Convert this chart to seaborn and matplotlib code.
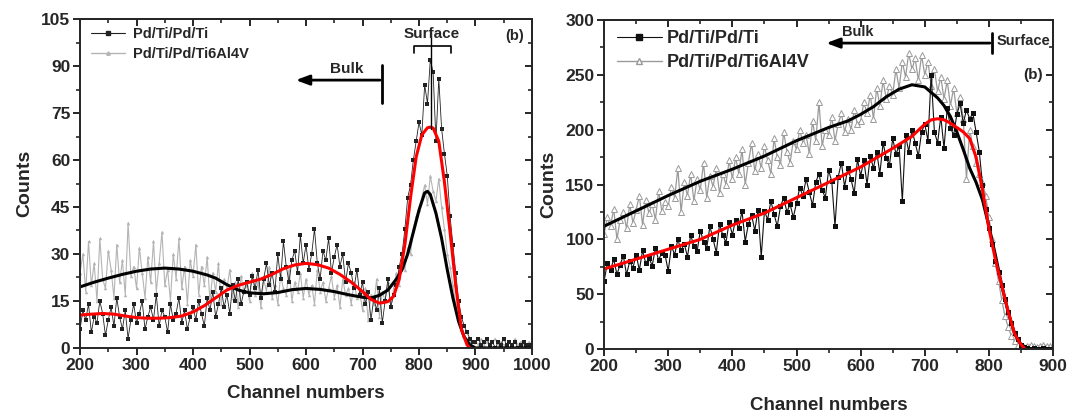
import numpy as np
import pandas as pd
import matplotlib
matplotlib.use('Agg')
import matplotlib.pyplot as plt
import seaborn as sns
from matplotlib.lines import Line2D
from matplotlib.ticker import MultipleLocator, NullFormatter

# ---------------- left panel data ----------------
ch_a = np.arange(200, 1001, 5)

pdti_a = [
    6, 12, 9, 14, 5, 10, 8, 15, 11, 4, 9, 13, 7, 16, 10, 6, 12, 3, 9, 14,
    8, 11, 15, 6, 10, 13, 9, 17, 7, 12, 10, 5, 14, 9, 11, 16, 8, 12, 6, 10,
    13, 9, 15, 11, 7, 16, 12, 18, 10, 14, 19, 13, 17, 11, 20, 15, 22, 14, 18, 21,
    17, 23, 19, 25, 16, 22, 27, 20, 24, 18, 30, 22, 34, 26, 21, 28, 31, 24, 36, 27,
    33, 25, 30, 38, 27, 22, 31, 28, 35, 24, 29, 33, 26, 30, 21, 27, 24, 19, 25, 17,
    21, 14, 18, 9, 16, 12, 19, 8, 15, 22, 13, 17, 20, 26, 30, 38, 48, 52, 60, 66,
    72, 68, 84, 78, 92, 88, 66, 86, 70, 62, 55, 42, 33, 24, 15, 10, 7, 5, 3, 2,
    2, 3, 1, 2, 3, 1, 2, 0, 2, 1, 3, 1, 2, 1, 2, 0, 1, 2, 1, 1,
    1,
]

ti64_a = [
    24, 30, 18, 34, 20, 27, 15, 35, 22, 19, 31, 25, 16, 33, 21, 28, 17, 40, 23, 26,
    19, 32, 24, 16, 29, 21, 34, 18, 27, 37, 20, 25, 15, 30, 22, 35, 19, 26, 14, 28,
    23, 33, 17, 26, 20, 29, 15, 24, 18, 27, 14, 22, 19, 25, 16, 21, 13, 23, 18, 20,
    15, 24, 17, 21, 13, 22, 18, 26, 16, 20, 14, 23, 19, 17, 25, 15, 21, 18, 24, 16,
    22, 17, 20, 14, 25, 18, 21, 15, 19, 23, 16, 20, 13, 22, 17, 19, 14, 21, 16, 18,
    12, 19, 9, 17, 14, 22, 10, 18, 15, 21, 13, 19, 24, 20, 28, 25, 32, 30, 38, 42,
    44, 48, 52, 46, 55, 50, 47, 54, 45, 38, 30, 26, 20, 14, 9, 6, 4, 3, 2, 2,
    2, 1, 3, 1, 2, 1, 2, 3, 1, 2, 1, 1, 2, 1, 3, 1, 2, 1, 1, 2,
    1,
]

fit_ti64_a_x = [200, 225, 250, 275, 300, 325, 350, 375, 400, 425, 440, 460, 480, 500,
                525, 550, 575, 600, 625, 650, 675, 700, 715, 730, 745, 760, 770, 780,
                790, 800, 810, 815, 820, 830, 840, 850, 860, 870, 880, 890, 900, 950, 1000]
fit_ti64_a_y = [19.5, 21, 22.3, 23.5, 24.5, 25.2, 25.5, 25.2, 24.5, 23.3, 22.3, 20.2, 18.5, 17.6,
                17.3, 17.7, 18.6, 19, 18.7, 18, 17, 16.2, 16, 16.8, 18.5, 22, 25, 30,
                37, 44, 49.5, 50, 49, 43, 35, 25, 16, 8.5, 3.5, 1, 0, 0, 0]

fit_pdti_a_x = [200, 220, 240, 260, 280, 300, 320, 340, 360, 380, 400, 420, 440, 460, 480,
                500, 520, 540, 560, 580, 600, 620, 640, 660, 680, 700, 715, 730, 745, 755,
                765, 775, 785, 795, 805, 815, 820, 825, 835, 845, 855, 865, 875, 885, 890]
fit_pdti_a_y = [10.5, 10.8, 11, 10.8, 10.2, 9.7, 9.5, 9.5, 9.7, 10.2, 11.5, 13.5, 16, 18.5, 20,
                21, 22, 23.5, 25.3, 26.5, 27, 26.6, 25.5, 23.5, 21, 18, 15.5, 14.3, 14.8, 16.5,
                22, 33, 48, 61, 68, 70.3, 70.5, 70.2, 66, 53, 37, 20, 6, 1, 0]

# ---------------- right panel data ----------------
ch_b = np.arange(200, 901, 5)

pdti_b = [
    62, 78, 72, 82, 68, 77, 85, 68, 80, 74, 86, 72, 90, 78, 83, 76, 92, 81, 88, 86,
    71, 94, 86, 100, 90, 96, 84, 104, 94, 89, 108, 98, 92, 112, 100, 88, 114, 104, 97, 116,
    104, 118, 110, 126, 98, 114, 122, 108, 127, 84, 126, 118, 135, 123, 112, 130, 138, 125, 132, 120,
    133, 147, 140, 155, 143, 131, 152, 160, 145, 138, 163, 153, 112, 157, 170, 148, 165, 155, 142, 173,
    158, 172, 150, 176, 165, 180, 160, 188, 174, 168, 192, 178, 185, 135, 195, 180, 200, 188, 176, 198,
    205, 190, 250, 198, 188, 212, 183, 220, 202, 195, 214, 224, 206, 218, 210, 215, 198, 180, 150, 128,
    110, 96, 80, 70, 58, 46, 34, 24, 15, 9, 4, 2, 1, 0, 1, 0, 0, 1, 0, 0,
    0,
]

ti64_b = [
    105, 120, 112, 128, 100, 118, 125, 110, 132, 115, 127, 140, 113, 136, 124, 132, 118, 144, 126, 134,
    130, 148, 138, 165, 125, 152, 140, 160, 135, 155, 145, 170, 138, 158, 148, 165, 142, 160, 150, 172,
    155, 175, 160, 182, 150, 170, 188, 162, 178, 165, 185, 172, 160, 192, 175, 168, 198, 180, 170, 190,
    182, 200, 188, 195, 178, 208, 190, 225, 185, 200, 195, 212, 190, 205, 215, 198, 210, 200, 218, 205,
    208, 225, 215, 232, 210, 238, 222, 245, 228, 240, 232, 255, 238, 262, 248, 270, 255, 265, 245, 268,
    250, 262, 240, 255, 235, 248, 228, 245, 222, 238, 215, 230, 210, 155, 200, 185, 170, 160, 152, 140,
    120, 100, 78, 62, 45, 30, 20, 12, 7, 4, 3, 2, 3, 4, 3, 2, 3, 4, 3, 3,
    3,
]

fit_ti64_b_x = [200, 250, 300, 350, 400, 450, 500, 550, 580, 600, 620, 640, 660, 680, 700,
                720, 730, 740, 750, 760, 770, 780, 790, 800, 810, 820, 830, 840, 850, 860, 880, 900]
fit_ti64_b_y = [112, 126, 140, 153, 164, 176, 190, 202, 208, 214, 221, 230, 237, 241, 239,
                229, 222, 212, 198, 182, 165, 152, 136, 112, 86, 58, 34, 14, 4, 0, 0, 0]

fit_pdti_b_x = [200, 250, 300, 350, 400, 450, 500, 550, 600, 650, 680, 700, 710, 720, 730,
                740, 750, 760, 770, 780, 790, 800, 810, 820, 830, 840, 850, 855]
fit_pdti_b_y = [73, 82, 91, 100, 113, 124, 138, 152, 166, 183, 194, 205, 209, 210, 209,
                206, 202, 198, 192, 175, 145, 110, 82, 58, 34, 14, 4, 1]

labels = ['Pd/Ti/Pd/Ti', 'Pd/Ti/Pd/Ti6Al4V']

# ---------------- style ----------------
sns.set_style('ticks')
plt.rcParams['font.family'] = ['Liberation Sans', 'DejaVu Sans']
plt.rcParams['font.weight'] = 'bold'
plt.rcParams['axes.labelweight'] = 'bold'
plt.rcParams['axes.linewidth'] = 1.4

fig = plt.figure(figsize=(10.73, 4.18), dpi=100)
ax1 = fig.add_axes([0.0746, 0.1675, 0.4212, 0.787])
ax2 = fig.add_axes([0.563, 0.165, 0.4184, 0.787])

df_a = pd.DataFrame({'ch': ch_a, 'pdti': pdti_a, 'ti64': ti64_a})
df_b = pd.DataFrame({'ch': ch_b, 'pdti': pdti_b, 'ti64': ti64_b})

# left panel
sns.lineplot(data=df_a, x='ch', y='ti64', ax=ax1, color='#b4b4b4', lw=0.8,
             marker='^', markersize=2.5, markeredgewidth=0, estimator=None, sort=False)
sns.lineplot(data=df_a, x='ch', y='pdti', ax=ax1, color='#222222', lw=0.6,
             marker='s', markersize=2.2, markeredgewidth=0, estimator=None, sort=False)
sns.lineplot(x=fit_ti64_a_x, y=fit_ti64_a_y, ax=ax1, color='black', lw=2.2, estimator=None, sort=False)
sns.lineplot(x=fit_pdti_a_x, y=fit_pdti_a_y, ax=ax1, color='#ff0000', lw=2.2, estimator=None, sort=False)

# right panel
sns.lineplot(data=df_b, x='ch', y='ti64', ax=ax2, color='#9a9a9a', lw=0.9,
             marker='^', markersize=4.5, markerfacecolor='white', markeredgecolor='#9a9a9a',
             markeredgewidth=0.7, estimator=None, sort=False)
sns.lineplot(data=df_b, x='ch', y='pdti', ax=ax2, color='#111111', lw=0.8,
             marker='s', markersize=3.6, markeredgewidth=0, estimator=None, sort=False)
sns.lineplot(x=fit_ti64_b_x, y=fit_ti64_b_y, ax=ax2, color='black', lw=2.2, estimator=None, sort=False)
sns.lineplot(x=fit_pdti_b_x, y=fit_pdti_b_y, ax=ax2, color='#ff0000', lw=2.2, estimator=None, sort=False)


def style_axes(ax, xlim, ylim, xmaj, ymaj, labelpad_x):
    ax.set_xlim(*xlim)
    ax.set_ylim(*ylim)
    ax.xaxis.set_major_locator(MultipleLocator(xmaj))
    ax.xaxis.set_minor_locator(MultipleLocator(xmaj / 2))
    ax.yaxis.set_major_locator(MultipleLocator(ymaj))
    ax.yaxis.set_minor_locator(MultipleLocator(ymaj / 2))
    ax.tick_params(which='major', direction='out', length=5, width=1.4, labelsize=12.5, pad=2)
    ax.tick_params(which='minor', direction='out', length=3, width=1.2)
    for lab in ax.get_xticklabels() + ax.get_yticklabels():
        lab.set_fontweight('bold')
    ax.set_xlabel('Channel numbers', fontsize=13.5, fontweight='bold', labelpad=labelpad_x)
    ax.set_ylabel('Counts', fontsize=14, fontweight='bold', labelpad=6)
    for s in ax.spines.values():
        s.set_visible(True)
        s.set_linewidth(1.4)
    # mirrored ticks on top/right pointing inward
    top = ax.secondary_xaxis('top')
    top.xaxis.set_major_locator(MultipleLocator(xmaj))
    top.xaxis.set_minor_locator(MultipleLocator(xmaj / 2))
    top.xaxis.set_major_formatter(NullFormatter())
    top.tick_params(which='major', direction='in', length=5, width=1.4)
    top.tick_params(which='minor', direction='in', length=3, width=1.2)
    right = ax.secondary_yaxis('right')
    right.yaxis.set_major_locator(MultipleLocator(ymaj))
    right.yaxis.set_minor_locator(MultipleLocator(ymaj / 2))
    right.yaxis.set_major_formatter(NullFormatter())
    right.tick_params(which='major', direction='in', length=5, width=1.4)
    right.tick_params(which='minor', direction='in', length=3, width=1.2)


style_axes(ax1, (200, 1000), (0, 105), 100, 15, 9)
style_axes(ax2, (200, 900), (0, 300), 100, 50, 17)

# legends
h_a = [Line2D([], [], color='#222222', lw=0.8, marker='s', markersize=2.5),
       Line2D([], [], color='#b4b4b4', lw=1.0, marker='^', markersize=2.5)]
ax1.legend(h_a, labels, loc='upper left', bbox_to_anchor=(0.025, 0.975), frameon=False,
           borderpad=0, borderaxespad=0, handlelength=2.3, handletextpad=0.55,
           labelspacing=0.4, prop={'size': 10.5, 'weight': 'bold'})

h_b = [Line2D([], [], color='#111111', lw=0.8, marker='s', markersize=4),
       Line2D([], [], color='#9a9a9a', lw=1.0, marker='^', markersize=4.5,
              markerfacecolor='white', markeredgecolor='#9a9a9a')]
ax2.legend(h_b, labels, loc='upper left', bbox_to_anchor=(0.028, 0.97), frameon=False,
           borderpad=0, borderaxespad=0, handlelength=2.5, handletextpad=0.3,
           labelspacing=0.4, prop={'size': 13, 'weight': 'bold'})

# annotations, left panel
ax1.text(672, 89, 'Bulk', ha='center', va='center', fontsize=11, fontweight='bold')
ax1.annotate('', xy=(577, 85.5), xytext=(736, 85.5),
             arrowprops=dict(arrowstyle='-|>,head_length=0.8,head_width=0.3', lw=2, color='black'))
ax1.plot([735, 735], [78.2, 90.3], color='black', lw=2)
ax1.text(823, 100.3, 'Surface', ha='center', va='center', fontsize=11, fontweight='bold')
ax1.plot([791, 791, 857, 857], [94.3, 96.5, 96.5, 94.3], color='black', lw=1.2)
ax1.plot([822, 822], [70, 101], color='black', lw=1)
ax1.text(970, 99.7, '(b)', ha='center', va='center', fontsize=10.5, fontweight='bold')

# annotations, right panel
ax2.text(596, 289, 'Bulk', ha='center', va='center', fontsize=10.5, fontweight='bold')
ax2.annotate('', xy=(542, 279), xytext=(806, 279),
             arrowprops=dict(arrowstyle='-|>,head_length=0.8,head_width=0.3', lw=2, color='black'))
ax2.plot([805, 805], [270, 288], color='black', lw=2)
ax2.text(812, 281, 'Surface', ha='left', va='center', fontsize=10.5, fontweight='bold')
ax2.text(869, 250, '(b)', ha='center', va='center', fontsize=11, fontweight='bold')

fig.savefig('out.png', dpi=100)
